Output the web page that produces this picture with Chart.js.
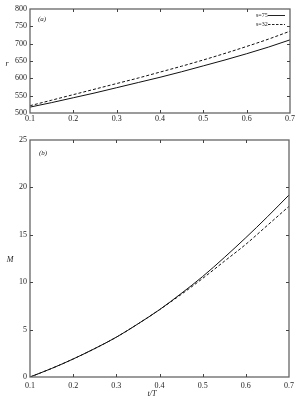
<!DOCTYPE html>
<html><head><meta charset="utf-8">
<script src="https://cdn.jsdelivr.net/npm/chart.js@4"></script>
<style>
html,body{margin:0;padding:0;background:#fff;width:298px;height:401px;overflow:hidden}
#w1{position:absolute;left:0;top:0;width:298px;height:127px}
#w2{position:absolute;left:0;top:128px;width:298px;height:273px}
</style></head><body>
<div id="w1"><canvas id="c1"></canvas></div>
<div id="w2"><canvas id="c2"></canvas></div>
<script>
// ---- data ----
const tValues = [0.1,0.15,0.2,0.25,0.3,0.35,0.4,0.45,0.5,0.55,0.6,0.65,0.7];
const rS75 = [517,530,544,558,573,588,603,619,636,653,671,690,711];
const rS32 = [521,537,553,569,585,601,618,635,653,672,692,713,736];
const mS75 = [0,0.9,1.9,3.0,4.2,5.6,7.1,8.8,10.6,12.6,14.7,16.9,19.2];
const mS32 = [0,0.9,1.9,3.0,4.2,5.6,7.1,8.7,10.4,12.2,14.0,16.0,18.0];
const seriesNames = ['s=75','s=32'];
const xTicks = {min:0.1, max:0.7, step:0.1};
const rTicks = {min:500, max:800, step:50};
const mTicks = {min:0, max:25, step:5};

const FONT = 'Liberation Serif';
const pts = (ys) => tValues.map((x,i)=>({x, y: ys[i]}));

const framePlugin = {
  id: 'frameTicks',
  afterDraw(chart) {
    const ctx = chart.ctx;
    const {left,right,top,bottom} = chart.chartArea;
    ctx.save();
    ctx.strokeStyle = '#666';
    ctx.lineWidth = 1.3;
    ctx.strokeRect(left, top, right-left, bottom-top);
    ctx.lineWidth = 1;
    ctx.strokeStyle = '#444';
    const L = 3;
    const xs = chart.scales.x, ys = chart.scales.y;
    xs.ticks.forEach(t => {
      if (t.value <= xs.min + 1e-9 || t.value >= xs.max - 1e-9) return;
      const px = Math.round(xs.getPixelForValue(t.value)) + 0.5;
      ctx.beginPath();
      ctx.moveTo(px, bottom); ctx.lineTo(px, bottom - L);
      ctx.moveTo(px, top); ctx.lineTo(px, top + L);
      ctx.stroke();
    });
    ys.ticks.forEach(t => {
      if (t.value <= ys.min + 1e-9 || t.value >= ys.max - 1e-9) return;
      const py = Math.round(ys.getPixelForValue(t.value)) + 0.5;
      ctx.beginPath();
      ctx.moveTo(left, py); ctx.lineTo(left + L, py);
      ctx.moveTo(right, py); ctx.lineTo(right - L, py);
      ctx.stroke();
    });
    ctx.restore();
  }
};

const textPlugin = {
  id: 'texts',
  afterDraw(chart, args, opts) {
    const ctx = chart.ctx;
    ctx.save();
    (opts.items || []).forEach(it => {
      ctx.font = it.font;
      ctx.fillStyle = '#222';
      ctx.textAlign = it.align || 'left';
      ctx.textBaseline = 'middle';
      ctx.fillText(it.text, it.x, it.y);
    });
    (opts.legend || []).forEach(it => {
      ctx.font = it.font;
      ctx.fillStyle = '#222';
      ctx.textAlign = 'left';
      ctx.textBaseline = 'middle';
      ctx.fillText(it.text, it.x, it.y);
      ctx.strokeStyle = '#222';
      ctx.lineWidth = 1;
      ctx.setLineDash(it.dash);
      ctx.beginPath();
      ctx.moveTo(it.lx1, Math.round(it.y)+0.5);
      ctx.lineTo(it.lx2, Math.round(it.y)+0.5);
      ctx.stroke();
      ctx.setLineDash([]);
    });
    ctx.restore();
  }
};

function makeChart(id, ds1, ds2, yt, pad, xH, xPad, texts, legend) {
  return new Chart(document.getElementById(id), {
    type: 'line',
    data: {
      datasets: [
        {label: seriesNames[0], data: pts(ds1), borderColor:'#111', borderWidth:1, pointRadius:0, fill:false, cubicInterpolationMode:'monotone'},
        {label: seriesNames[1], data: pts(ds2), borderColor:'#111', borderWidth:1, borderDash:[3,2], pointRadius:0, fill:false, cubicInterpolationMode:'monotone'}
      ]
    },
    options: {
      responsive: true, maintainAspectRatio: false, animation: false,
      layout: {padding: pad},
      plugins: {legend:{display:false}, tooltip:{enabled:false}, texts: {items: texts, legend: legend}},
      scales: {
        x: {
          type:'linear', min:xTicks.min, max:xTicks.max,
          grid:{display:false, drawTicks:false}, border:{display:false},
          ticks:{stepSize:xTicks.step, padding:xPad, maxRotation:0, color:'#222', font:{family:FONT, size:8},
                 callback:v=>Number(v).toFixed(1)},
          afterFit: s => { s.height = xH; }
        },
        y: {
          min:yt.min, max:yt.max,
          grid:{display:false, drawTicks:false}, border:{display:false},
          ticks:{stepSize:yt.step, padding:3, color:'#222', font:{family:FONT, size:8}},
          afterFit: s => { s.width = 30; }
        }
      }
    },
    plugins: [framePlugin, textPlugin]
  });
}

makeChart('c1', rS75, rS32, rTicks, {top:9, right:8, left:0, bottom:0}, 14, 1,
  [
    {text:'(a)', x:38, y:19, font:'italic 7px '+FONT},
    {text:'r', x:7, y:64, font:'italic 8px '+FONT, align:'center'}
  ],
  [
    {text:seriesNames[0], x:256, y:15, font:'6px '+FONT, lx1:268, lx2:285, dash:[]},
    {text:seriesNames[1], x:256, y:24, font:'6px '+FONT, lx1:268, lx2:285, dash:[2.5,1.5]}
  ]
);

makeChart('c2', mS75, mS32, mTicks, {top:12, right:8, left:0, bottom:0}, 24, 4,
  [
    {text:'(b)', x:39, y:25, font:'italic 7px '+FONT},
    {text:'M', x:10, y:132, font:'italic 8px '+FONT, align:'center'},
    {text:'t/T', x:152, y:266, font:'italic 8px '+FONT, align:'center'}
  ],
  []
);
</script>
</body></html>
